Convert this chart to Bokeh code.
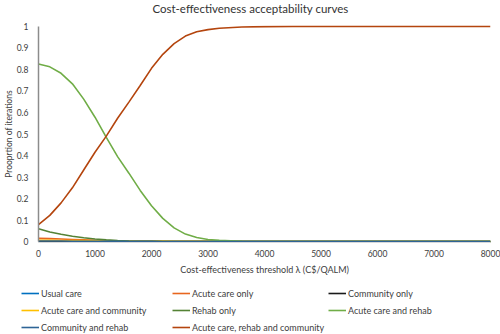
from bokeh.plotting import figure
from bokeh.layouts import column
from bokeh.models import Range1d, FixedTicker, Legend, LegendItem, Label
from bokeh.embed import file_html
from bokeh.resources import INLINE

# ---- data ----
thresholds = [0, 200, 400, 600, 800, 1000, 1200, 1400, 1600, 1800, 2000, 2200, 2400, 2600, 2800, 3000,
              3200, 3600, 4000, 4500, 5000, 6000, 7000, 8000]
usual_care = [0.0] * 24
acute_only = [0.015, 0.014, 0.012, 0.010, 0.008, 0.006, 0.004, 0.003, 0.002, 0.001, 0.001, 0.0, 0.0, 0.0,
              0.0, 0.0, 0.0, 0.0, 0.0, 0.0, 0.0, 0.0, 0.0, 0.0]
community_only = [0.0] * 24
acute_community = [0.006, 0.006, 0.005, 0.005, 0.005, 0.004, 0.004, 0.004, 0.004, 0.003, 0.003, 0.003,
                   0.002, 0.002, 0.002, 0.001, 0.001, 0.0, 0.0, 0.0, 0.0, 0.0, 0.0, 0.0]
rehab_only = [0.060, 0.045, 0.034, 0.025, 0.018, 0.012, 0.008, 0.005, 0.003, 0.002, 0.001, 0.0, 0.0, 0.0,
              0.0, 0.0, 0.0, 0.0, 0.0, 0.0, 0.0, 0.0, 0.0, 0.0]
acute_rehab = [0.825, 0.812, 0.782, 0.733, 0.662, 0.578, 0.484, 0.395, 0.318, 0.238, 0.167, 0.108,
               0.064, 0.035, 0.019, 0.010, 0.006, 0.002, 0.0, 0.0, 0.0, 0.0, 0.0, 0.0]
community_rehab = [0.003, 0.003, 0.003, 0.002, 0.002, 0.002, 0.002, 0.001, 0.001, 0.001, 0.001, 0.0,
                   0.0, 0.0, 0.0, 0.0, 0.0, 0.0, 0.0, 0.0, 0.0, 0.0, 0.0, 0.0]
acute_rehab_community = [0.079, 0.122, 0.180, 0.250, 0.333, 0.415, 0.490, 0.573, 0.648, 0.725, 0.805,
                         0.870, 0.920, 0.955, 0.975, 0.985, 0.991, 0.997, 0.999, 1.0, 1.0, 1.0, 1.0, 1.0]

series_names = ["Usual care", "Acute care only", "Community only",
                "Acute care and community", "Rehab only", "Acute care and rehab",
                "Community and rehab", "Acute care, rehab and community"]
series_values = [usual_care, acute_only, community_only, acute_community,
                 rehab_only, acute_rehab, community_rehab, acute_rehab_community]
colors = ["#0070C0", "#E8661E", "#1A1A1A", "#FFC000", "#548235", "#70AD47", "#2E6496", "#B4450E"]

title_text = "Cost-effectiveness acceptability curves"
x_title = "Cost-effectiveness threshold λ (C$/QALM)"
y_title = "Prooprtion of iterations"
y_ticks = [round(i * 0.1, 1) for i in range(11)]
y_tick_labels = {t: ("0" if t == 0 else "1" if t == 1 else f"{t:.1f}") for t in y_ticks}
x_ticks = [0, 1000, 2000, 3000, 4000, 5000, 6000, 7000, 8000]

FONT = "Lato"
TXT = "#404040"


def bare(fig):
    fig.outline_line_color = None
    fig.grid.visible = False
    fig.background_fill_color = "white"
    fig.border_fill_color = "white"
    if "frame_align" in fig.properties():
        fig.frame_align = False


# ---- title strip ----
t = figure(width=500, height=20, output_backend="svg", toolbar_location=None,
           x_range=Range1d(0, 1), y_range=Range1d(0, 1),
           x_axis_location=None, y_axis_location=None,
           min_border_left=0, min_border_right=0, min_border_top=0, min_border_bottom=0)
bare(t)
t.add_layout(Label(x=250, y=12, x_units="screen", y_units="screen", text=title_text,
                   text_align="center", text_baseline="middle", text_font=FONT,
                   text_font_size="11.5px", text_color="#333333"))

# ---- main chart ----
p = figure(width=500, height=262, output_backend="svg", toolbar_location=None,
           x_range=Range1d(0, 8000), y_range=Range1d(-0.004, 1.004),
           min_border_left=33, min_border_right=10, min_border_top=5, min_border_bottom=40)
bare(p)

renderers = []
for vals, c in zip(series_values, colors):
    renderers.append(p.line(thresholds, vals, line_color=c, line_width=1.6))

p.yaxis.ticker = FixedTicker(ticks=y_ticks)
p.yaxis.major_label_overrides = y_tick_labels
p.yaxis.bounds = (0, 1)
p.yaxis.axis_line_color = "#8C8C8C"
p.yaxis.axis_line_width = 1.5
p.yaxis.major_tick_line_color = None
p.yaxis.minor_tick_line_color = None
p.yaxis.major_tick_out = 0
p.yaxis.major_tick_in = 0
p.yaxis.minor_tick_out = 0
p.yaxis.minor_tick_in = 0
p.yaxis.axis_label = y_title
p.yaxis.axis_label_text_font = FONT
p.yaxis.axis_label_text_font_size = "8.5px"
p.yaxis.axis_label_text_font_style = "normal"
p.yaxis.axis_label_text_color = TXT
p.yaxis.axis_label_standoff = 0
p.yaxis.major_label_text_font = FONT
p.yaxis.major_label_text_font_size = "8.5px"
p.yaxis.major_label_text_color = TXT
p.yaxis.major_label_standoff = 10

p.xaxis.ticker = FixedTicker(ticks=x_ticks)
p.xaxis.bounds = (0, 8000)
p.xaxis.axis_line_color = "#D9D9D9"
p.xaxis.axis_line_width = 1
p.xaxis.major_tick_line_color = None
p.xaxis.minor_tick_line_color = None
p.xaxis.major_tick_out = 0
p.xaxis.major_tick_in = 0
p.xaxis.minor_tick_out = 0
p.xaxis.minor_tick_in = 0
p.xaxis.axis_label = x_title
p.xaxis.axis_label_text_font = FONT
p.xaxis.axis_label_text_font_size = "9px"
p.xaxis.axis_label_text_font_style = "normal"
p.xaxis.axis_label_text_color = TXT
p.xaxis.axis_label_standoff = 4
p.xaxis.major_label_text_font = FONT
p.xaxis.major_label_text_font_size = "8.5px"
p.xaxis.major_label_text_color = TXT
p.xaxis.major_label_standoff = 7

# ---- legend strip (same series, view range kept off the data) ----
q = figure(width=500, height=52, output_backend="svg", toolbar_location=None,
           x_range=Range1d(0, 8000), y_range=Range1d(5, 6),
           x_axis_location=None, y_axis_location=None,
           min_border_left=0, min_border_right=0, min_border_top=0, min_border_bottom=0)
bare(q)
leg_renderers = []
for vals, c in zip(series_values, colors):
    leg_renderers.append(q.line(thresholds, vals, line_color=c, line_width=1.6))

legend_columns = [[0, 3, 6], [1, 4, 7], [2, 5]]
col_x = [21, 172, 328]
for idx, lx in zip(legend_columns, col_x):
    items = [LegendItem(label=series_names[i], renderers=[leg_renderers[i]]) for i in idx]
    h = 14 * len(idx) + 3 * (len(idx) - 1)
    ly = 52 - (4 + h)
    leg = Legend(items=items, location=(lx, ly),
                 padding=0, margin=0, spacing=3, label_height=14, glyph_height=14,
                 glyph_width=18, label_standoff=2,
                 label_text_font=FONT, label_text_font_size="9px", label_text_color=TXT,
                 border_line_color=None, background_fill_alpha=0)
    q.add_layout(leg, "center")

layout = column(t, p, q, spacing=0)
open("out.html", "w").write(file_html(layout, INLINE))
